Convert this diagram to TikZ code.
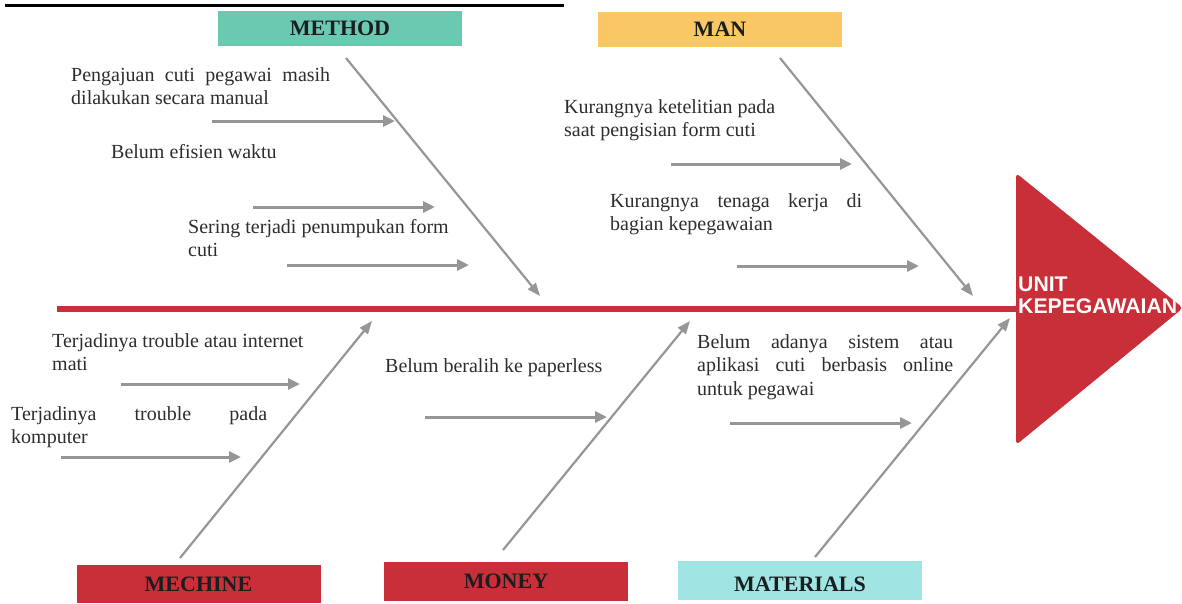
\documentclass[tikz,border=0pt]{standalone}
\usepackage{fontspec}
\setmainfont{Liberation Serif}
\setsansfont{Liberation Sans}
\usetikzlibrary{arrows.meta,positioning}
\setlength{\parindent}{0pt}

\definecolor{fishred}{RGB}{201,47,56}
\definecolor{methodteal}{RGB}{106,201,176}
\definecolor{manyellow}{RGB}{249,199,100}
\definecolor{matcyan}{RGB}{160,229,227}
\definecolor{bonegray}{RGB}{150,150,150}
\definecolor{ink}{RGB}{45,45,45}
\definecolor{catink}{RGB}{25,30,30}

\tikzset{
  cat/.style={minimum width=244pt, minimum height=35pt, inner sep=0pt,
    font=\fontsize{22}{24}\selectfont\bfseries, text=catink},
  cause/.style={anchor=north west, inner sep=0pt,
    font=\fontsize{20}{23.5}\selectfont, text=ink},
  block/.style={cause, align=justify, text width=#1},
  bone/.style={draw=bonegray, line width=2.2pt, -{Triangle[length=13pt,width=10pt]}},
  twig/.style={draw=bonegray, line width=3pt, -{Triangle[length=12pt,width=11pt]}},
  spine/.style={draw=fishred, line width=6pt},
}

\begin{document}
\begin{tikzpicture}[x=1pt,y=-1pt]
  \useasboundingbox (0,0) rectangle (1182,603);
  \draw[line width=3pt] (5,5.5) -- (564,5.5);

  \node[cat, fill=methodteal] (method) at (340,28.5) {METHOD};
  \node[cat, fill=manyellow] (man) at (720,29) {MAN};
  \node[cat, fill=fishred, minimum height=38pt] (mechine) at (198.5,584) {MECHINE};
  \node[cat, fill=fishred, minimum height=39pt] (money) at (506,581.5) {MONEY};
  \node[cat, fill=matcyan, minimum height=39pt, text height=22pt, text depth=0pt] (materials) at (800,580.5) {MATERIALS};

  \fill[fishred, rounded corners=4pt] (1016,173) -- (1183,308) -- (1016,445) -- cycle;
  \node[anchor=north west, inner sep=0pt, align=left, text=white,
    font=\fontsize{21.2}{22}\sffamily\bfseries] (effect) at (1018,277) {UNIT\\KEPEGAWAIAN};

  \coordinate (tail) at (57,309);
  \coordinate (head) at (1016,309);
  \draw[spine] (tail) -- (head);

  \coordinate (methodA) at (346,58);
  \coordinate (methodB) at (540,296);
  \coordinate (manA) at (780,58);
  \coordinate (manB) at (973,296);
  \coordinate (mechineA) at (180,558);
  \coordinate (mechineB) at (372,321);
  \coordinate (moneyA) at (503,550);
  \coordinate (moneyB) at (690,321);
  \coordinate (materialsA) at (815,557);
  \coordinate (materialsB) at (1010,318);
  \draw[bone] (methodA) -- (methodB);
  \draw[bone] (manA) -- (manB);
  \draw[bone] (mechineA) -- (mechineB);
  \draw[bone] (moneyA) -- (moneyB);
  \draw[bone] (materialsA) -- (materialsB);

  \node[block=259pt] (method1) at (71,67) {Pengajuan cuti pegawai masih\linebreak dilakukan secara manual};
  \node[cause] (method2) at (111,144) {Belum efisien waktu};
  \node[cause, align=left] (method3) at (188,219) {Sering terjadi penumpukan form\\cuti};
  \node[cause, align=left] (man1) at (564,99) {Kurangnya ketelitian pada\\saat pengisian form cuti};
  \node[block=252pt] (man2) at (610,193) {Kurangnya tenaga kerja di\linebreak bagian kepegawaian};
  \node[cause, align=left] (mechine1) at (52,333) {Terjadinya trouble atau internet\\mati};
  \node[block=256pt] (mechine2) at (11,406) {Terjadinya trouble pada\linebreak komputer};
  \node[cause] (money1) at (385,358) {Belum beralih ke paperless};
  \node[block=256pt] (materials1) at (697,334) {Belum adanya sistem atau\linebreak aplikasi cuti berbasis online\linebreak untuk pegawai};

  \coordinate (m1a) at (212,121); \coordinate (m1b) at (395,121);
  \coordinate (m2a) at (253,207); \coordinate (m2b) at (435,207);
  \coordinate (m3a) at (287,265); \coordinate (m3b) at (469,265);
  \coordinate (n1a) at (671,164); \coordinate (n1b) at (852,164);
  \coordinate (n2a) at (737,266); \coordinate (n2b) at (919,266);
  \coordinate (c1a) at (121,384); \coordinate (c1b) at (300,384);
  \coordinate (c2a) at (61,457);  \coordinate (c2b) at (241,457);
  \coordinate (y1a) at (425,417); \coordinate (y1b) at (607,417);
  \coordinate (t1a) at (730,423); \coordinate (t1b) at (912,423);
  \draw[twig] (m1a) -- (m1b);
  \draw[twig] (m2a) -- (m2b);
  \draw[twig] (m3a) -- (m3b);
  \draw[twig] (n1a) -- (n1b);
  \draw[twig] (n2a) -- (n2b);
  \draw[twig] (c1a) -- (c1b);
  \draw[twig] (c2a) -- (c2b);
  \draw[twig] (y1a) -- (y1b);
  \draw[twig] (t1a) -- (t1b);
\end{tikzpicture}
\end{document}
